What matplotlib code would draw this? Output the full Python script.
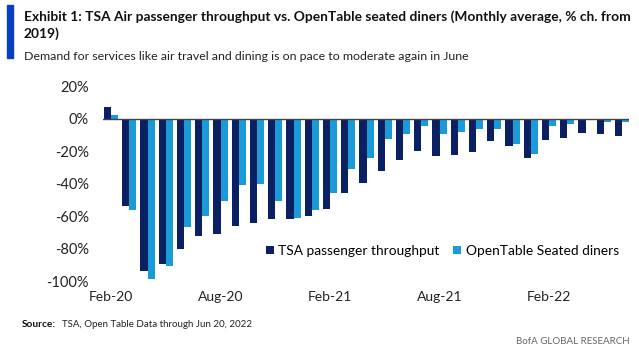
import numpy as np
import matplotlib.pyplot as plt
from matplotlib.patches import Rectangle

months = ["Feb-20", "Mar-20", "Apr-20", "May-20", "Jun-20", "Jul-20", "Aug-20",
          "Sep-20", "Oct-20", "Nov-20", "Dec-20", "Jan-21", "Feb-21", "Mar-21",
          "Apr-21", "May-21", "Jun-21", "Jul-21", "Aug-21", "Sep-21", "Oct-21",
          "Nov-21", "Dec-21", "Jan-22", "Feb-22", "Mar-22", "Apr-22", "May-22",
          "Jun-22"]
tsa = [7, -54, -94, -89.5, -80, -72.5, -71, -66, -64, -62, -62, -60, -55.5, -46,
       -39.5, -32, -25.5, -20, -23, -22.5, -20.5, -14, -17, -24, -13.5, -12,
       -9, -9.5, -10.5]
opentable = [2, -56.5, -99, -91, -67, -60, -51, -41, -40, -51, -61, -56.5, -46,
             -31, -24, -12.5, -9.5, -4.5, -9.5, -8, -6.5, -6.5, -15.5, -22, -4.5,
             -3.5, -0.5, -2.3, -2.3]
yticks = [20, 0, -20, -40, -60, -80, -100]
xtick_labels = ["Feb-20", "Aug-20", "Feb-21", "Aug-21", "Feb-22"]

navy = "#0B1F63"
light = "#1A9BD7"
plt.rcParams["font.family"] = ["Lato", "DejaVu Sans"]

fig = plt.figure(figsize=(6.39, 3.54), dpi=100)
ax = fig.add_axes([0.161, 0.206, 0.824, 0.551])

x = np.arange(len(months))
w = 0.39
ax.bar(x - w / 2, tsa, w, color=navy, label="TSA passenger throughput")
ax.bar(x + w / 2, opentable, w, color=light, label="OpenTable Seated diners")

ax.set_xlim(-0.45, len(months) - 0.6)
ax.set_ylim(-100, 20)
ax.axhline(0, color="#444444", lw=1.0)
ax.set_yticks(yticks)
ax.set_yticklabels([f"{v}%" for v in yticks], fontsize=10.5, color="#222222")
ax.set_xticks([months.index(m) for m in xtick_labels])
ax.set_xticklabels(xtick_labels, fontsize=10, color="#222222")
ax.tick_params(axis="x", length=0, pad=7)
ax.tick_params(axis="y", length=0, pad=10)
for s in ax.spines.values():
    s.set_visible(False)

ax.legend(loc="center right", bbox_to_anchor=(0.99, 0.155), ncol=2, frameon=False,
          fontsize=9.9, handlelength=0.6, handleheight=0.6, handletextpad=0.3,
          columnspacing=1.0, borderaxespad=0)

fig.patches.append(Rectangle((0.011, 0.836), 0.009, 0.15, transform=fig.transFigure,
                             color="#0A3FC4"))
title = fig.text(0.037, 0.970,
                 "Exhibit 1: TSA Air passenger throughput vs. OpenTable seated diners (Monthly average, % ch. from\n2019)",
                 fontsize=10, fontweight="bold", va="top", ha="left", color="#111111",
                 linespacing=1.35)
sub = fig.text(0.037, 0.840,
               "Demand for services like air travel and dining is on pace to moderate again in June",
               fontsize=10, va="center", ha="left", color="#222222")
src1 = fig.text(0.034, 0.082, "Source:", fontsize=7.5, fontweight="bold", va="center",
                color="#111111")
src2 = fig.text(0.097, 0.082, "TSA, Open Table Data through Jun 20, 2022", fontsize=7,
                va="center", color="#222222")
fig.text(0.986, 0.034, "BofA GLOBAL RESEARCH", fontsize=7, ha="right", va="center",
         color="#666666")

# fit text widths to the reference
r = fig.canvas.get_renderer()
def fit(t, target_px):
    bb = t.get_window_extent(r)
    t.set_fontsize(t.get_fontsize() * target_px / bb.width)

fit(title, 606)
fit(sub, 444)
fit(src1, 34)
fit(src2, 190)

fig.savefig("out.png", dpi=100)
